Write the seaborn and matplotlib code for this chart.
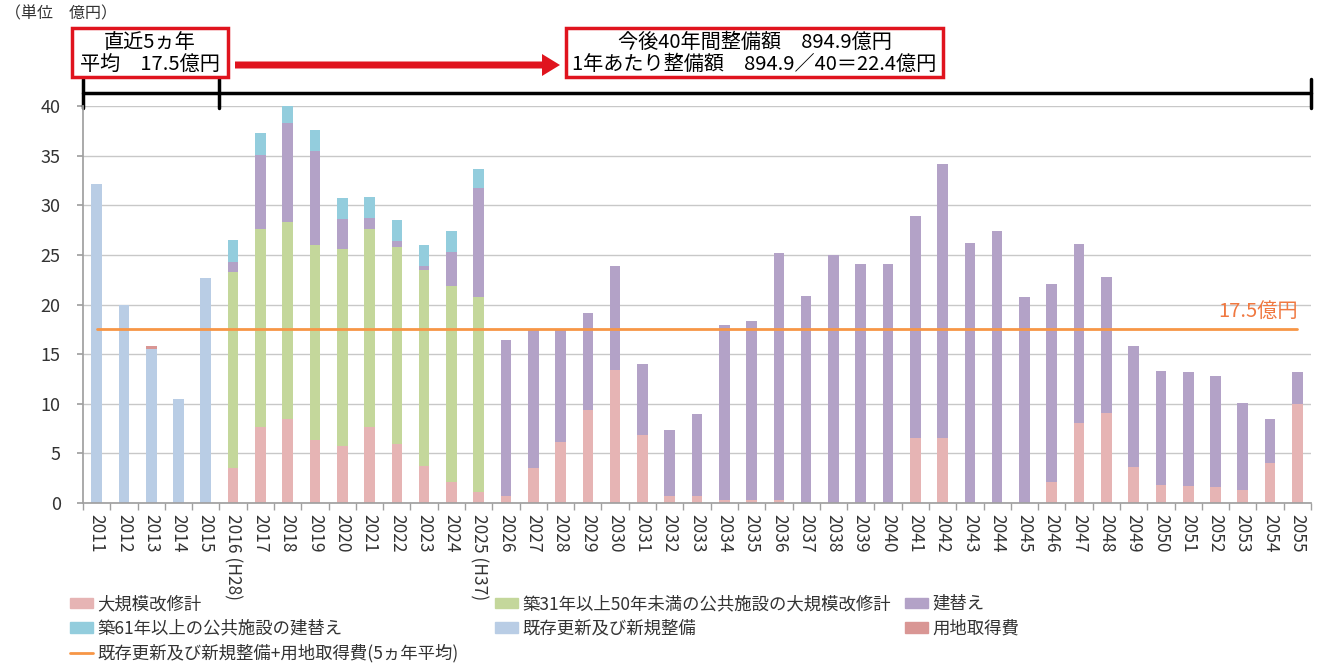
import numpy as np
import pandas as pd
import matplotlib
matplotlib.use("Agg")
import matplotlib.pyplot as plt
import seaborn as sns
from matplotlib.patches import Patch, Rectangle, FancyArrow
from matplotlib.lines import Line2D

sns.set_theme(style="white")
plt.rcParams["font.family"] = ["Noto Sans CJK JP", "DejaVu Sans"]

# ── data (億円) ──────────────────────────────────────────────────────────
years = [str(y) for y in range(2011, 2056)]
years[5] = "2016 (H28)"
years[14] = "2025 (H37)"

existing = [32.1, 19.9, 15.5, 10.5, 22.7] + [0] * 40          # 既存更新及び新規整備
land     = [0, 0, 0.3, 0, 0] + [0] * 40                       # 用地取得費
repair   = [0] * 5 + [3.5, 7.7, 8.5, 6.3, 5.7, 7.7, 5.9, 3.7, 2.1, 1.1,
                      0.7, 3.5, 6.1, 9.4, 13.4, 6.9, 0.7, 0.7, 0.3, 0.3,
                      0.3, 0, 0, 0, 0, 6.5, 6.5, 0, 0, 0,
                      2.1, 8.1, 9.1, 3.6, 1.8, 1.7, 1.6, 1.3, 4.0, 10.0]   # 大規模改修計
aged31   = [0] * 5 + [19.8, 19.9, 19.8, 19.7, 19.9, 19.9, 19.9, 19.8, 19.8, 19.7] + [0] * 30
rebuild  = [0] * 5 + [1.0, 7.5, 10.0, 9.5, 3.0, 1.1, 0.6, 0.4, 3.4, 10.9,
                      15.7, 14.0, 11.4, 9.7, 10.5, 7.1, 6.7, 8.3, 17.6, 18.0,
                      24.9, 20.9, 25.0, 24.1, 24.1, 22.4, 27.7, 26.2, 27.4, 20.8,
                      20.0, 18.0, 13.7, 12.2, 11.5, 11.5, 11.2, 8.8, 4.5, 3.2]   # 建替え
aged61   = [0] * 5 + [2.2, 2.2, 2.0, 2.1, 2.1, 2.1, 2.1, 2.1, 2.1, 2.0] + [0] * 30
avg5 = 17.5

C_REPAIR, C_AGED31, C_REBUILD = "#E6B4B4", "#C4D79B", "#B3A2C7"
C_AGED61, C_EXIST, C_LAND = "#93CDDD", "#B9CDE5", "#D99694"
C_LINE = "#F79646"
GRID = "#C8C8C8"
TXT = "#333333"

df = pd.DataFrame({"year": years, "existing": existing, "land": land,
                   "repair": repair, "aged31": aged31, "rebuild": rebuild,
                   "aged61": aged61})

fig = plt.figure(figsize=(13.19, 6.66), dpi=100)
ax = fig.add_axes([83 / 1319, 1 - 503 / 666, (1311 - 83) / 1319, (503 - 106) / 666])

layers = [("existing", C_EXIST), ("land", C_LAND),
          ("repair", C_REPAIR), ("aged31", C_AGED31),
          ("rebuild", C_REBUILD), ("aged61", C_AGED61)]
bottom = np.zeros(len(df))
for col, colr in layers:
    if col == "repair":
        bottom = np.zeros(len(df))
    sns.barplot(data=df, x="year", y=col, order=years, color=colr,
                width=0.39, bottom=bottom, errorbar=None, saturation=1,
                linewidth=0, ax=ax)
    bottom = bottom + df[col].values

# 5-year average line
xs = np.arange(len(years))
ax.plot(xs, [avg5] * len(xs), color=C_LINE, lw=2, zorder=3)
ax.text(xs[-1], avg5 + 0.7, "17.5億円", color="#F07840", fontsize=14.5,
        ha="right", va="bottom")

ax.set_xlim(-0.5, len(years) - 0.5)
ax.set_ylim(0, 40)
ax.set_yticks(np.arange(0, 41, 5))
ax.yaxis.grid(True, color=GRID, lw=1)
ax.set_axisbelow(True)
ax.set_xlabel("")
ax.set_ylabel("")
for s in ["top", "right"]:
    ax.spines[s].set_visible(False)
ax.spines["left"].set_color("#A0A0A0")
ax.spines["bottom"].set_color("#A0A0A0")
ax.tick_params(axis="y", labelsize=13, colors=TXT, length=4, color="#A0A0A0",
               left=True, pad=12)
ax.tick_params(axis="x", which="major", length=0, labelsize=12.5, labelcolor=TXT, pad=8)
ax.set_xticks(xs)
ax.set_xticklabels(years, rotation=-90, va="top", ha="center")
ax.set_xticks(np.arange(-0.5, len(years)), minor=True)
ax.tick_params(axis="x", which="minor", length=5, color="#A0A0A0", bottom=True)

# unit label
fig.text(5 / 1319, 1 - 14 / 666, "（単位　億円）", fontsize=11.5, color=TXT, va="center", ha="left")

# bracket line over the plot
tr = ax.get_xaxis_transform()
yb = 1.033
ax.plot([-0.5, len(years) - 0.5], [yb, yb], transform=tr, color="black", lw=2.5, clip_on=False)
for xv in [-0.5, 4.5, len(years) - 0.5]:
    ax.plot([xv, xv], [0.995, 1.068], transform=tr, color="black", lw=2.5, clip_on=False)

# annotation boxes
def box(x0, x1, lines):
    y0, y1 = 1 - 77 / 666, 1 - 28 / 666
    fig.patches.append(Rectangle((x0 / 1319, y0), (x1 - x0) / 1319, y1 - y0,
                                 transform=fig.transFigure, fill=False,
                                 edgecolor="#E0141E", lw=2.5))
    xc = (x0 + x1) / 2 / 1319
    fig.text(xc, 1 - 42 / 666, lines[0], fontsize=14.5, ha="center", va="center", color="black")
    fig.text(xc, 1 - 64 / 666, lines[1], fontsize=14.5, ha="center", va="center", color="black")

box(72, 228, ["直近5ヵ年", "平均　17.5億円"])
box(566, 943, ["今後40年間整備額　894.9億円", "1年あたり整備額　894.9／40＝22.4億円"])

fig.patches.append(FancyArrow(235 / 1319, 1 - 65 / 666, (560 - 235) / 1319, 0,
                              width=7 / 666, head_width=22 / 666, head_length=18 / 1319,
                              length_includes_head=True, transform=fig.transFigure,
                              color="#E0141E", lw=0))

# legend, one block per column
leg_cols = [
    (70, [Patch(color=C_REPAIR), Patch(color=C_AGED61), Line2D([], [], color=C_LINE, lw=2)],
     ["大規模改修計", "築61年以上の公共施設の建替え", "既存更新及び新規整備+用地取得費(5ヵ年平均)"]),
    (495, [Patch(color=C_AGED31), Patch(color=C_EXIST)],
     ["築31年以上50年未満の公共施設の大規模改修計", "既存更新及び新規整備"]),
    (905, [Patch(color=C_REBUILD), Patch(color=C_LAND)],
     ["建替え", "用地取得費"]),
]
for xpix, hs, ls in leg_cols:
    fig.legend(hs, ls, loc="upper left", bbox_to_anchor=(xpix / 1319, 1 - 595 / 666),
               ncol=1, frameon=False, fontsize=12.5, handlelength=1.3, handleheight=0.55,
               handletextpad=0.25, labelspacing=0.37, borderaxespad=0,
               borderpad=0, labelcolor=TXT)

fig.savefig("out.png", dpi=100)
